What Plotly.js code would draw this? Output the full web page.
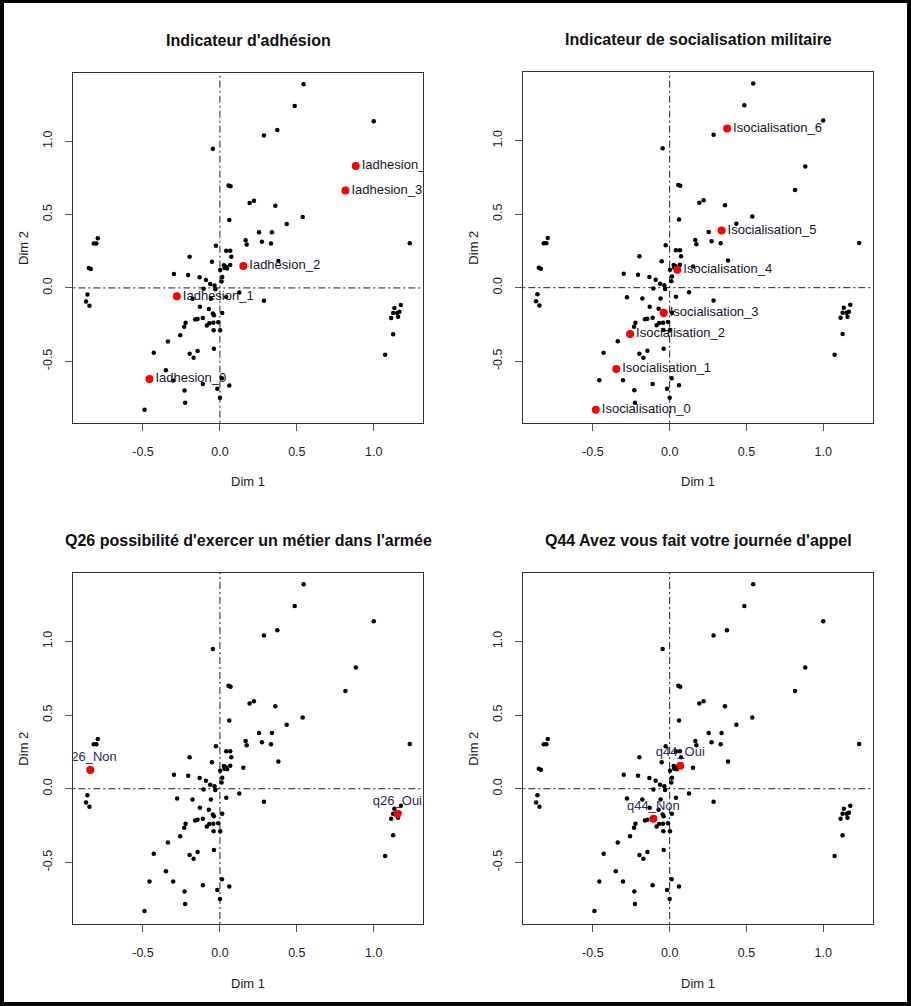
<!DOCTYPE html>
<html>
<head>
<meta charset="utf-8">
<script src="https://cdn.plot.ly/plotly-3.0.1.min.js"></script>
<style>
  html, body { margin: 0; padding: 0; background: #fff; }
  #wrap { position: relative; width: 911px; height: 1006px; }
  #chart { position: absolute; left: 0; top: 0; width: 911px; height: 1006px; }
  #frame { position: absolute; left: 0; top: 0; width: 911px; height: 1006px; box-sizing: border-box; border: 4px solid #000; border-top-width: 3px; pointer-events: none; }
</style>
</head>
<body>
<div id="wrap"><div id="chart"></div><div id="frame"></div></div>
<script>
// ---- Individuals (black points), same in every panel ----
const indDim1 = [0.544, 0.486, 1.000, 0.373, 0.286, -0.046, 0.883, 0.816, 0.056, 0.069,
  0.193, 0.221, 0.360, 0.538, 0.061, 0.434, 0.254, 0.338, 0.273, 0.332,
  0.167, 0.174, 1.234, -0.026, 0.041, 0.067, -0.197, 0.074, -0.052, 0.380,
  0.026, 0.039, 0.046, 0.030, 0.067, 0.152, 0.002, -0.299, -0.206, -0.132,
  -0.091, 0.015, 0.011, -0.063, -0.035, -0.030, -0.106, 0.126, 0.041, -0.278,
  -0.178, -0.059, 0.286, -0.130, -0.072, 0.015, -0.046, -0.039, -0.161, -0.145,
  -0.111, -0.223, -0.232, -0.085, -0.069, -0.043, -0.011, -0.041, 0.002, -0.258,
  -0.338, -0.430, -0.197, -0.145, -0.171, -0.039, -0.351, -0.458, -0.304, -0.111,
  0.013, 0.061, -0.017, -0.230, -0.226, 0.000, -0.490, -0.820, -0.803, -0.794,
  -0.852, -0.839, -0.861, -0.870, -0.848, 1.134, 1.176, 1.126, 1.152, 1.167,
  1.113, 1.158, 1.126, 1.074];
const indDim2 = [1.388, 1.240, 1.136, 1.075, 1.039, 0.948, 0.823, 0.664, 0.698, 0.692,
  0.578, 0.594, 0.560, 0.483, 0.463, 0.435, 0.379, 0.379, 0.315, 0.302,
  0.324, 0.295, 0.304, 0.288, 0.254, 0.254, 0.213, 0.213, 0.179, 0.184,
  0.154, 0.145, 0.132, 0.136, 0.156, 0.143, 0.122, 0.095, 0.088, 0.073,
  0.054, 0.075, 0.043, 0.027, 0.016, -0.009, -0.005, -0.032, -0.061, -0.066,
  -0.073, -0.073, -0.088, -0.129, -0.143, -0.170, -0.175, -0.186, -0.215, -0.211,
  -0.204, -0.238, -0.265, -0.256, -0.240, -0.238, -0.234, -0.288, -0.288, -0.322,
  -0.365, -0.442, -0.449, -0.429, -0.476, -0.415, -0.560, -0.630, -0.630, -0.655,
  -0.615, -0.664, -0.687, -0.698, -0.782, -0.748, -0.830, 0.302, 0.302, 0.338,
  0.136, 0.129, -0.045, -0.093, -0.122, -0.136, -0.116, -0.170, -0.170, -0.163,
  -0.204, -0.197, -0.315, -0.456];

// ---- Categories (red points) ----
const adhLabels = ["Iadhesion_0", "Iadhesion_1", "Iadhesion_2", "Iadhesion_3", "Iadhesion_4"];
const adhDim1 = [-0.458, -0.280, 0.152, 0.816, 0.883];
const adhDim2 = [-0.620, -0.057, 0.149, 0.663, 0.830];

const socLabels = ["Isocialisation_0", "Isocialisation_1", "Isocialisation_2", "Isocialisation_3",
  "Isocialisation_4", "Isocialisation_5", "Isocialisation_6"];
const socDim1 = [-0.481, -0.348, -0.258, -0.039, 0.050, 0.338, 0.374];
const socDim2 = [-0.830, -0.553, -0.315, -0.170, 0.122, 0.388, 1.082];

const q26Labels = ["q26_Non", "q26_Oui"];
const q26Dim1 = [-0.842, 1.154];
const q26Dim2 = [0.127, -0.172];

const q44Labels = ["q44_Non", "q44_Oui"];
const q44Dim1 = [-0.106, 0.069];
const q44Dim2 = [-0.204, 0.156];

const panelTitles = ["Indicateur d'adhésion", "Indicateur de socialisation militaire",
  "Q26 possibilité d'exercer un métier dans l'armée", "Q44 Avez vous fait votre journée d'appel"];
const xTickVals = [-0.5, 0, 0.5, 1];
const xTickText = ["-0.5", "0.0", "0.5", "1.0"];
const yTickVals = [-0.5, 0, 0.5, 1];
const yTickText = ["-0.5", "0.0", "0.5", "1.0"];
const xLabel = "Dim 1";
const yLabel = "Dim 2";

// ---- Layout geometry ----
const W = 911, H = 1006;
const FONT = "Liberation Sans, Arial, sans-serif";
const panels = [
  {l: 73.3, r: 423.3, t: 72.7, b: 422.7, cats: [adhLabels, adhDim1, adhDim2], pos: "middle right", lc: "#15152a"},
  {l: 523.3, r: 872.7, t: 72.0, b: 422.7, cats: [socLabels, socDim1, socDim2], pos: "middle right", lc: "#15152a"},
  {l: 73.3, r: 423.3, t: 572.7, b: 924.0, cats: [q26Labels, q26Dim1, q26Dim2], pos: "top center", lc: "#2a2a5a"},
  {l: 523.3, r: 872.7, t: 572.7, b: 924.0, cats: [q44Labels, q44Dim1, q44Dim2], pos: "top center", lc: "#2a2a5a"}
];

const traces = [];
const layout = {
  width: W, height: H,
  margin: {l: 0, r: 0, t: 0, b: 0, pad: 0},
  paper_bgcolor: "#fff", plot_bgcolor: "#fff",
  showlegend: false,
  font: {family: FONT, size: 12, color: "#222"},
  shapes: [], annotations: []
};

panels.forEach((p, i) => {
  const s = i === 0 ? "" : String(i + 1);
  const xa = "x" + s, ya = "y" + s;
  traces.push({
    type: "scatter", mode: "markers", x: indDim1, y: indDim2, xaxis: xa, yaxis: ya,
    marker: {color: "#000", size: 4.5}, hoverinfo: "skip"
  });
  traces.push({
    type: "scatter", mode: "markers+text", x: p.cats[1], y: p.cats[2], text: p.cats[0],
    textposition: p.pos, xaxis: xa, yaxis: ya, cliponaxis: true,
    textfont: {family: FONT, size: 13, color: p.lc},
    marker: {color: "#ff0000", size: 8}, hoverinfo: "skip"
  });
  const common = {
    showgrid: false, zeroline: false, showline: true, mirror: true,
    linecolor: "#333", linewidth: 1, ticks: "outside", ticklen: 7, tickwidth: 1,
    tickcolor: "#555", tickfont: {family: FONT, size: 12.5, color: "#222"},
    fixedrange: true
  };
  layout["xaxis" + s] = Object.assign({}, common, {
    domain: [p.l / W, p.r / W], anchor: ya, range: [-0.953, 1.322],
    tickmode: "array", tickvals: xTickVals, ticktext: xTickText, ticklabelstandoff: 10
  });
  layout["yaxis" + s] = Object.assign({}, common, {
    domain: [1 - p.b / H, 1 - p.t / H], anchor: xa, range: [-0.918, 1.466],
    tickmode: "array", tickvals: yTickVals, ticktext: yTickText, tickangle: -90, ticklabelstandoff: 8
  });
  const dash = "2px,3px,7px,3px";
  layout.shapes.push({type: "line", xref: xa, yref: ya + " domain", x0: 0, x1: 0, y0: 0, y1: 1,
    line: {color: "#222", width: 1, dash: dash}, layer: "below"});
  layout.shapes.push({type: "line", xref: xa + " domain", yref: ya, x0: 0, x1: 1, y0: 0, y1: 0,
    line: {color: "#222", width: 1, dash: dash}, layer: "below"});
  const cx = (p.l + p.r) / 2 / W;
  layout.annotations.push({text: "<b>" + panelTitles[i] + "</b>", xref: "paper", yref: "paper",
    x: cx, y: 1 - (p.t - 32) / H, xanchor: "center", yanchor: "middle", showarrow: false,
    font: {family: FONT, size: 16, color: "#111"}});
  layout.annotations.push({text: xLabel, xref: "paper", yref: "paper",
    x: cx, y: 1 - (p.b + 59) / H, xanchor: "center", yanchor: "middle", showarrow: false,
    font: {family: FONT, size: 13, color: "#222"}});
  layout.annotations.push({text: yLabel, xref: "paper", yref: "paper",
    x: (p.l - 50) / W, y: 1 - ((p.t + p.b) / 2) / H, xanchor: "center", yanchor: "middle",
    textangle: -90, showarrow: false, font: {family: FONT, size: 13, color: "#222"}});
});

Plotly.newPlot("chart", traces, layout, {staticPlot: true, displayModeBar: false});
</script>
</body>
</html>
